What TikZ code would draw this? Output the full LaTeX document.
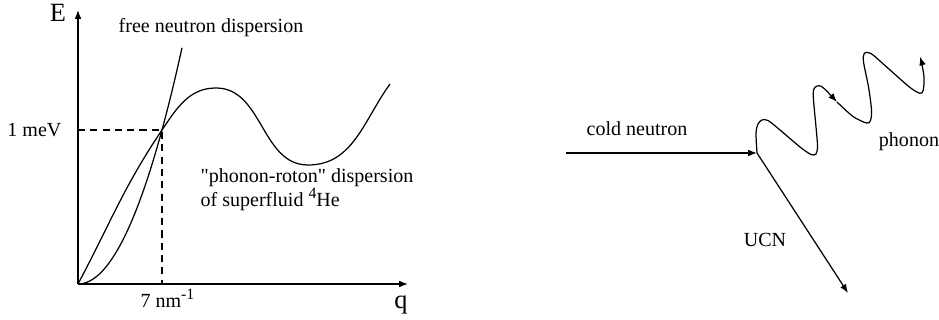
\documentclass[tikz,border=0pt]{standalone}
\usepackage{fontspec}
\setmainfont{Liberation Serif}
\usetikzlibrary{arrows.meta,positioning}
\newcommand{\supx}[1]{\raisebox{0.42em}{\fontsize{9}{10}\selectfont #1}}

\begin{document}
\begin{tikzpicture}[x=0.02cm,y=0.02cm,line width=0.7pt,
  font=\fontsize{11.4}{14}\selectfont,
  every node/.style={inner sep=0pt},
  vec/.style={-{Latex[length=5pt,width=3.8pt]}},
  axlab/.style={font=\fontsize{15}{18}\selectfont},
  guide/.style={dashed,dash pattern=on 4pt off 3pt,line width=0.6pt}]
  \useasboundingbox (0,0) rectangle (939,320);

  % dispersion plot
  \coordinate (O) at (78,36);
  \coordinate (Etop) at (78,310);
  \coordinate (qend) at (408,36);
  \coordinate (P) at (162,190);
  \coordinate (Rmax) at (216,232);
  \coordinate (Rmin) at (308,155);
  \coordinate (Rend) at (390,236);
  \draw[vec] (O) -- (Etop);
  \draw[vec] (O) -- (qend);
  \node[axlab,anchor=base] (Elab) at (58,298) {E};
  \node[axlab,anchor=base] (qlab) at (401,11) {q};

  % free neutron
  \draw plot[domain=0:104,samples=40] ({78+\x},{36+0.02183*\x*\x});
  % phonon-roton
  \draw (O) to[out=62,in=236] (P) to[out=56,in=180] (Rmax)
    to[out=0,in=180] (Rmin) to[out=0,in=234] (Rend);
  \draw[guide] (O |- P) -- (P) -- (P |- O);

  \node[anchor=base] (fnd) at (211,287) {free neutron dispersion};
  \node[anchor=base east] (meV) at (62,183) {1 meV};
  \node[anchor=base west] (qc) at (140,12) {7 nm\supx{-1}};
  \node[anchor=base west,align=left] (prd) at (200,113)
    {\textquotedbl phonon-roton\textquotedbl{} dispersion\\of superfluid \supx{4}He};

  % scattering
  \coordinate (cnStart) at (566,167);
  \coordinate (V) at (757,167);
  \coordinate (ucnEnd) at (848,27);
  \coordinate (phMid) at (837,218);
  \coordinate (phEnd) at (920,263.3);
  \draw[vec] (cnStart) -- (V);
  \draw[vec] (V) -- (ucnEnd);
  \draw[vec] plot[smooth,tension=0.5] coordinates {(V) (756,187) (758,196)
    (762,200) (768,199.5) (780,190) (800,173) (811,165.5) (816,166)
    (817.5,174) (816,193) (813.5,220) (813.5,230) (817,234) (823,232.5)
    (phMid)};
  \draw[vec] plot[smooth,tension=0.5] coordinates {(phMid) (853,203.5)
    (866.5,197) (870.5,199.5) (871.5,210) (868.5,233) (863.5,258) (864,266)
    (867,267.5) (873,265) (890,250) (910,232.5) (920,226.7) (923.3,230)
    (924,243) (921.7,256.7) (phEnd)};

  \node[anchor=base] (cnlab) at (637,184) {cold neutron};
  \node[anchor=base] (ucnlab) at (765,73) {UCN};
  \node[anchor=base] (phlab) at (909,173) {phonon};
\end{tikzpicture}
\end{document}
